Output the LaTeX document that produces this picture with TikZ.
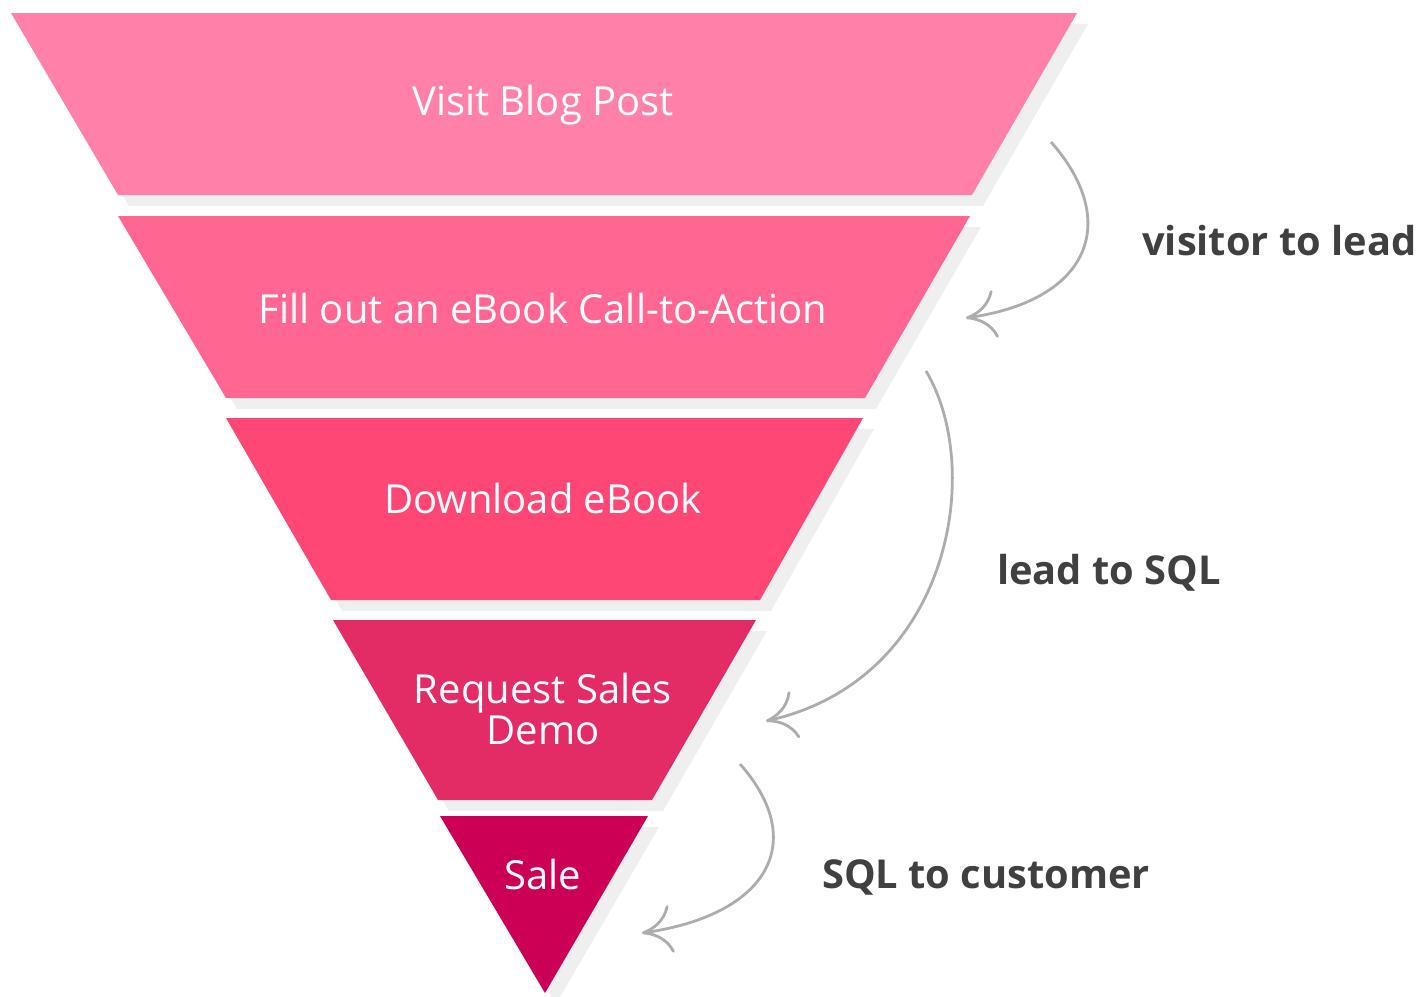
\documentclass[tikz,border=0pt]{standalone}
\usepackage{fontspec}
\setmainfont{Open Sans}
\usetikzlibrary{arrows.meta}

\definecolor{tierA}{HTML}{FF80A8}
\definecolor{tierB}{HTML}{FF6692}
\definecolor{tierC}{HTML}{FF4776}
\definecolor{tierD}{HTML}{E32B66}
\definecolor{tierE}{HTML}{CC0055}
\definecolor{shade}{HTML}{F0EFF0}
\definecolor{curvegray}{HTML}{ADADAD}
\definecolor{notegray}{HTML}{404040}

\begin{document}
\begin{tikzpicture}[x=1pt,y=-1pt,
  tiershadow/.style={fill=shade, shift={(11,11)}},
  tiertext/.style={font=\fontsize{40}{41}\selectfont, text=white, anchor=base, align=center, inner sep=0pt},
  notetext/.style={font=\bfseries\fontsize{39.8}{44}\selectfont, text=notegray, anchor=base west, inner sep=0pt},
  flow/.style={draw=curvegray, line width=2.8pt,
    -{Computer Modern Rightarrow[length=30pt,width=48pt,line width=2.8pt]}}
]
\useasboundingbox (0,0) rectangle (1420,996);

% drop shadows behind the funnel tiers
\fill[tiershadow] (11,13) -- (1077,13) -- (972,195) -- (118,195) -- cycle;
\fill[tiershadow] (118,216) -- (970,216) -- (865,398) -- (226,398) -- cycle;
\fill[tiershadow] (226,418) -- (863,418) -- (760,600) -- (331,600) -- cycle;
\fill[tiershadow] (333,620) -- (756,620) -- (652,800) -- (438,800) -- cycle;
\fill[tiershadow] (440,816) -- (648,816) -- (545,993) -- cycle;

% funnel tiers
\fill[tierA] (11,13) -- (1077,13) -- (972,195) -- (118,195) -- cycle;
\fill[tierB] (118,216) -- (970,216) -- (865,398) -- (226,398) -- cycle;
\fill[tierC] (226,418) -- (863,418) -- (760,600) -- (331,600) -- cycle;
\fill[tierD] (333,620) -- (756,620) -- (652,800) -- (438,800) -- cycle;
\fill[tierE] (440,816) -- (648,816) -- (545,993) -- cycle;

% tier captions (a two-line caption sits on its last baseline)
\node[tiertext] (visit) at (543,115) {Visit Blog Post};
\node[tiertext] (fill) at (543,323) {Fill out an eBook Call-to-Action};
\node[tiertext] (download) at (543,513) {Download eBook};
\node[tiertext] (demo) at (543,744) {Request Sales\\Demo};
\node[tiertext] (sale) at (543,889) {Sale};

% conversion notes
\node[notetext] (n1) at (1142,255) {visitor to lead};
\node[notetext] (n2) at (997,584) {lead to SQL};
\node[notetext] (n3) at (822,888) {SQL to customer};

% conversion arrows
\coordinate (a1s) at (1051,142);
\coordinate (a1e) at (966,318);
\coordinate (a2s) at (926,371);
\coordinate (a2e) at (766,721);
\coordinate (a3s) at (740,764);
\coordinate (a3e) at (642,933);

\draw[flow] (a1s) .. controls (1120,220) and (1092,300) .. (a1e);
\draw[flow] (a2s) .. controls (985,470) and (950,680) .. (a2e);
\draw[flow] (a3s) .. controls (809,842) and (768,915) .. (a3e);
\end{tikzpicture}
\end{document}
